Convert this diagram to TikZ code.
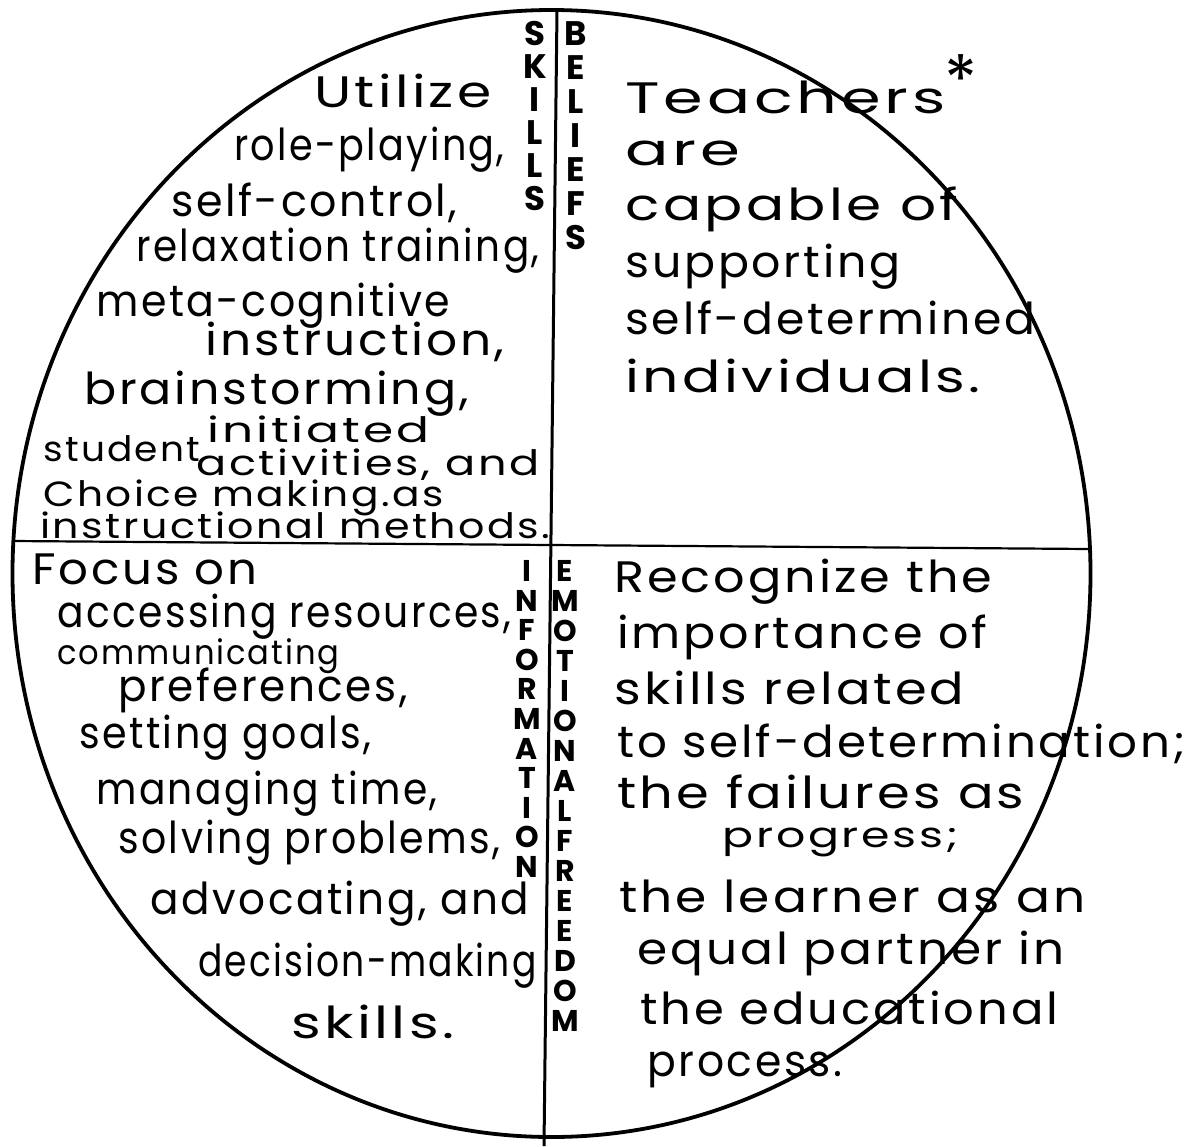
\documentclass[tikz,border=0pt]{standalone}
\usepackage{fontspec}
\usepackage{graphicx}
\setmainfont{Poppins}[LetterSpace=6]
\newlength\px
\setlength\px{0.5pt}
% set a handwritten line stretched to a given width (in px units)
\newcommand\hw[2]{\resizebox{#1\px}{\height}{#2}}
\begin{document}
\begin{tikzpicture}[x=0.5pt,y=-0.5pt,
  hand/.style={anchor=base west, inner sep=0pt, font=\fontsize{22}{24}\selectfont},
  tight/.style={hand, font=\fontsize{17.5}{19}\selectfont},
  small/.style={hand, font=\fontsize{17}{19}\selectfont},
  stack/.style={anchor=north, inner sep=0pt, align=center},
  rim/.style={line width=1.9pt},
  divider/.style={line width=1.5pt}]
\useasboundingbox (0,0) rectangle (1199,1146);

% the disc and its two dividing lines
\coordinate (c) at (551.5,573.5);
\draw[rim] (c) ellipse [x radius=269.5pt, y radius=281.75pt];
\coordinate (vtop) at (557,10);
\coordinate (vbot) at (544,1146);
\coordinate (hl) at (13,541);
\coordinate (hr) at (1090,549);
\draw[divider] (vtop) -- (vbot);
\draw[line width=1.1pt] (hl) -- (hr);

% vertical headings
\node[stack, font=\bfseries\fontsize{17}{16.5}\selectfont] (skills) at (535,21) {S\\K\\I\\L\\L\\S};
\node[stack, font=\bfseries\fontsize{17}{17}\selectfont] (beliefs) at (576,21) {B\\E\\L\\I\\E\\F\\S};
\node[stack, font=\bfseries\fontsize{15}{14.8}\selectfont] (information) at (527,560) {I\\N\\F\\O\\R\\M\\A\\T\\I\\O\\N};
\node[stack, font=\bfseries\fontsize{15}{15}\selectfont] (emotional) at (565,560) {E\\M\\O\\T\\I\\O\\N\\A\\L\\F\\R\\E\\E\\D\\O\\M};

% skills quadrant
\node[hand] (s1) at (314,107) {\hw{177}{Utilize}};
\node[hand] (s2) at (234,160) {\hw{270}{role-playing,}};
\node[hand] (s3) at (171,216) {\hw{286}{self-control,}};
\node[hand] (s4) at (136,261) {\hw{403}{relaxation training,}};
\node[hand] (s5) at (96,316) {\hw{354}{meta-cognitive}};
\node[hand] (s6) at (205,355) {\hw{299}{instruction,}};
\node[hand] (s7) at (84,404) {\hw{384}{brainstorming,}};
\node[tight] (s8) at (43,461) {\hw{157}{student}};
\node[tight] (s9) at (207,442) {\hw{222}{initiated}};
\node[tight] (s10) at (196,475) {\hw{343}{activities, and}};
\node[tight] (s11) at (43,506) {\hw{400}{Choice making.as}};
\node[tight] (s12) at (40,538) {\hw{510}{instructional methods.}};

% beliefs quadrant
\node[hand] (b1) at (625,113) {\hw{320}{Teachers}};
\node[hand, font=\fontsize{34}{34}\selectfont] (star) at (944,104) {*};
\node[hand] (b2) at (625,165) {\hw{115}{are}};
\node[hand] (b3) at (625,220) {\hw{333}{capable of}};
\node[hand] (b4) at (625,277) {\hw{275}{supporting}};
\node[hand] (b5) at (625,334) {\hw{410}{self-determined}};
\node[hand] (b6) at (625,392) {\hw{355}{individuals.}};

% information quadrant
\node[hand] (i1) at (32,584) {\hw{225}{Focus on}};
\node[hand] (i2) at (57,627) {\hw{454}{accessing resources,}};
\node[small] (i3) at (57,664) {\hw{282}{communicating}};
\node[hand] (i4) at (118,701) {\hw{289}{preferences,}};
\node[hand] (i5) at (79,748) {\hw{292}{setting goals,}};
\node[hand] (i6) at (96,804) {\hw{341}{managing time,}};
\node[hand] (i7) at (118,853) {\hw{382}{solving problems,}};
\node[hand] (i8) at (150,914) {\hw{379}{advocating, and}};
\node[hand] (i9) at (198,976) {\hw{338}{decision-making}};
\node[hand] (i10) at (291,1038) {\hw{163}{skills.}};

% emotional freedom quadrant
\node[hand] (e1) at (614,592) {\hw{378}{Recognize the}};
\node[hand] (e2) at (617,648) {\hw{370}{importance of}};
\node[hand] (e3) at (614,704) {\hw{350}{skills related}};
\node[hand] (e4) at (617,757) {\hw{568}{to self-determination;}};
\node[hand] (e5) at (617,808) {\hw{407}{the failures as}};
\node[tight] (e6) at (722,847) {\hw{236}{progress;}};
\node[hand] (e7) at (619,912) {\hw{466}{the learner as an}};
\node[hand] (e8) at (637,964) {\hw{427}{equal partner in}};
\node[hand] (e9) at (640,1024) {\hw{418}{the educational}};
\node[hand] (e10) at (647,1076) {\hw{195}{process.}};
\end{tikzpicture}
\end{document}
